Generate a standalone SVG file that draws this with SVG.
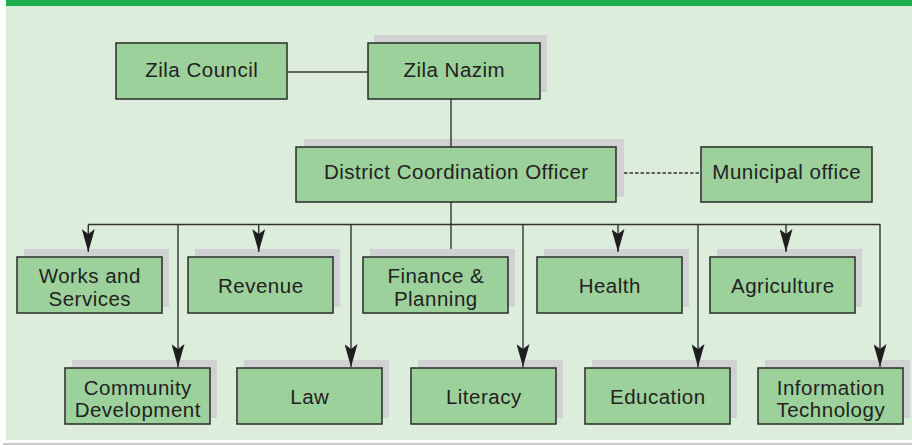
<svg xmlns="http://www.w3.org/2000/svg" width="912" height="445" viewBox="0 0 912 445">
<style>
.box{fill:#9dd19b;stroke:#2a2a2a;stroke-width:1.5}
.sh{fill:#d0d1d3}
.t{font-family:"Liberation Sans",Arial,sans-serif;font-size:20.5px;letter-spacing:0.5px;fill:#222;text-anchor:middle}
.c{stroke:#333;stroke-width:1.4;fill:none}
.d{stroke:#333;stroke-width:1.3;fill:none;stroke-dasharray:3.5 2}
</style>
<defs>
<marker id="arr" viewBox="0 0 23 13" refX="23" refY="6.5" markerWidth="23" markerHeight="13" orient="auto" markerUnits="userSpaceOnUse">
<path d="M0,0 L23,6.5 L0,13 L5,6.5 Z" fill="#1e1e1e"/>
</marker>
</defs>
<rect x="0" y="0" width="912" height="445" fill="#ffffff"/>
<rect x="6" y="0" width="906" height="6" fill="#1faf4a"/>
<rect x="6" y="6" width="906" height="434" fill="#ddeddc"/>
<line x1="3" y1="444" x2="912" y2="444" stroke="#b5b8b5" stroke-width="1.5"/>

<g id="zila-council">
<rect class="box" x="116" y="43" width="171" height="56"/>
<text class="t" x="201.8" y="77">Zila Council</text>
</g>
<g id="zila-nazim">
<rect class="sh" x="374" y="35" width="173" height="57"/>
<rect class="box" x="368" y="43" width="172" height="56"/>
<text class="t" x="454.3" y="77">Zila Nazim</text>
</g>
<g id="dco">
<rect class="sh" x="304" y="139" width="320" height="58"/>
<rect class="box" x="296" y="147" width="320" height="55"/>
<text class="t" x="456.3" y="179">District Coordination Officer</text>
</g>
<g id="municipal-office">
<rect class="box" x="701" y="147" width="171" height="55"/>
<text class="t" x="786.8" y="179">Municipal office</text>
</g>

<g id="works-and-services">
<rect class="sh" x="24" y="249" width="145" height="58"/>
<rect class="box" x="17" y="257" width="145" height="56"/>
<text class="t" x="89.8" y="282.5">Works and</text>
<text class="t" x="89.8" y="306">Services</text>
</g>
<g id="revenue">
<rect class="sh" x="195" y="249" width="145" height="58"/>
<rect class="box" x="188" y="257" width="145" height="56"/>
<text class="t" x="260.8" y="292.5">Revenue</text>
</g>
<g id="finance-planning">
<rect class="sh" x="370" y="249" width="145" height="58"/>
<rect class="box" x="363" y="257" width="145" height="56"/>
<text class="t" x="435.8" y="282.5">Finance &amp;</text>
<text class="t" x="435.8" y="306">Planning</text>
</g>
<g id="health">
<rect class="sh" x="544" y="249" width="145" height="58"/>
<rect class="box" x="537" y="257" width="145" height="56"/>
<text class="t" x="609.8" y="292.5">Health</text>
</g>
<g id="agriculture">
<rect class="sh" x="717" y="249" width="145" height="58"/>
<rect class="box" x="710" y="257" width="145" height="56"/>
<text class="t" x="782.8" y="292.5">Agriculture</text>
</g>

<g id="community-development">
<rect class="sh" x="72" y="360" width="145" height="58"/>
<rect class="box" x="65" y="368" width="145" height="56"/>
<text class="t" x="137.8" y="394.5">Community</text>
<text class="t" x="137.8" y="417">Development</text>
</g>
<g id="law">
<rect class="sh" x="244" y="360" width="145" height="58"/>
<rect class="box" x="237" y="368" width="145" height="56"/>
<text class="t" x="309.8" y="403.5">Law</text>
</g>
<g id="literacy">
<rect class="sh" x="418" y="360" width="145" height="58"/>
<rect class="box" x="411" y="368" width="145" height="56"/>
<text class="t" x="483.8" y="403.5">Literacy</text>
</g>
<g id="education">
<rect class="sh" x="592" y="360" width="145" height="58"/>
<rect class="box" x="585" y="368" width="145" height="56"/>
<text class="t" x="657.8" y="403.5">Education</text>
</g>
<g id="information-technology">
<rect class="sh" x="765" y="360" width="145" height="58"/>
<rect class="box" x="758" y="368" width="145" height="56"/>
<text class="t" x="830.8" y="394.5">Information</text>
<text class="t" x="830.8" y="417">Technology</text>
</g>

<g id="connectors">
<line class="c" x1="287" y1="72" x2="368" y2="72"/>
<line class="c" x1="451" y1="99" x2="451" y2="147"/>
<line class="c" x1="451" y1="202" x2="451" y2="224.5"/>
<line class="d" x1="624" y1="173" x2="701" y2="173"/>
<line class="c" x1="88" y1="224.5" x2="880.5" y2="224.5"/>
<line class="c" x1="451" y1="224.5" x2="451" y2="249"/>
<line class="c" x1="88.3" y1="224.5" x2="88.3" y2="252" marker-end="url(#arr)"/>
<line class="c" x1="258.7" y1="224.5" x2="258.7" y2="252" marker-end="url(#arr)"/>
<line class="c" x1="618" y1="224.5" x2="618" y2="252" marker-end="url(#arr)"/>
<line class="c" x1="786" y1="224.5" x2="786" y2="252" marker-end="url(#arr)"/>
<line class="c" x1="178" y1="224.5" x2="178" y2="367" marker-end="url(#arr)"/>
<line class="c" x1="351" y1="224.5" x2="351" y2="367" marker-end="url(#arr)"/>
<line class="c" x1="523" y1="224.5" x2="523" y2="367" marker-end="url(#arr)"/>
<line class="c" x1="698" y1="224.5" x2="698" y2="367" marker-end="url(#arr)"/>
<line class="c" x1="880" y1="224.5" x2="880" y2="367" marker-end="url(#arr)"/>
</g>
</svg>
